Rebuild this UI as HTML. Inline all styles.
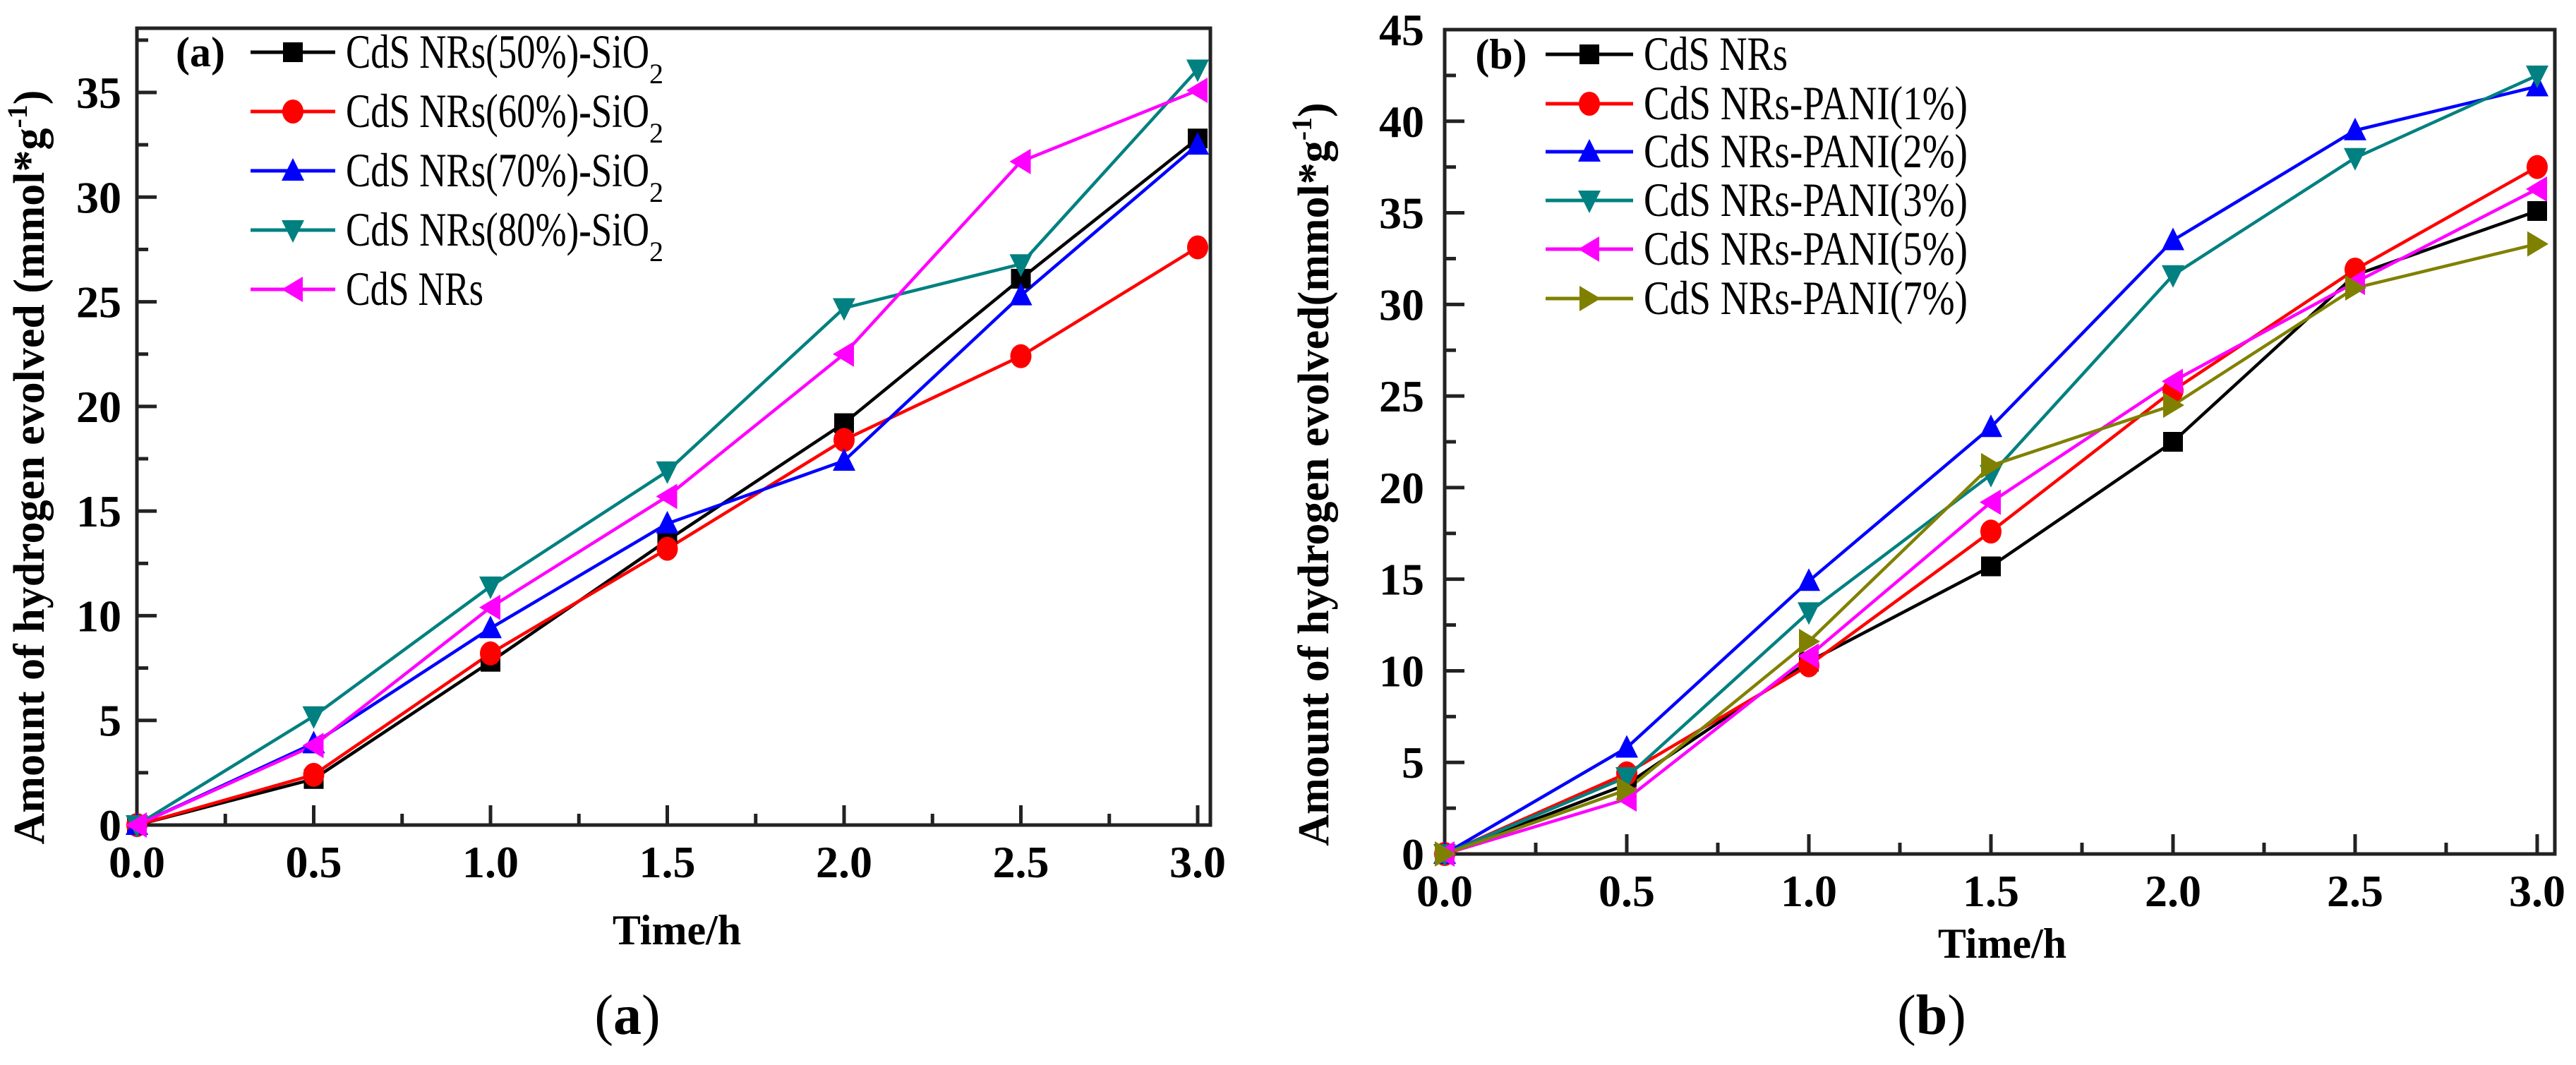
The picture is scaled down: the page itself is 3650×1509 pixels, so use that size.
<!DOCTYPE html>
<html><head><meta charset="utf-8"><style>
html,body{margin:0;padding:0;background:#fff;}
svg{display:block;}
text{font-family:"Liberation Serif",serif;}
</style></head><body>
<svg id="fig" width="3650" height="1509" viewBox="0 0 3650 1509" xmlns="http://www.w3.org/2000/svg" font-family="Liberation Serif, serif"></svg>
<script>
const xVals = [0,0.5,1.0,1.5,2.0,2.5,3.0];
const xTickLabels = ["0.0","0.5","1.0","1.5","2.0","2.5","3.0"];
const aNames = ["CdS NRs(50%)-SiO","CdS NRs(60%)-SiO","CdS NRs(70%)-SiO","CdS NRs(80%)-SiO","CdS NRs"];
const aSub = ["2","2","2","2",""];
const a50 = [0,2.2,7.8,13.6,19.2,26.1,32.8];
const a60 = [0,2.4,8.2,13.2,18.4,22.4,27.6];
const a70 = [0,3.9,9.4,14.4,17.4,25.3,32.5];
const a80 = [0,5.2,11.4,16.9,24.7,26.8,36.1];
const aCdS = [0,3.8,10.4,15.7,22.5,31.7,35.1];
const aYTicks = [0,5,10,15,20,25,30,35];
const bNames = ["CdS NRs","CdS NRs-PANI(1%)","CdS NRs-PANI(2%)","CdS NRs-PANI(3%)","CdS NRs-PANI(5%)","CdS NRs-PANI(7%)"];
const bCdS = [0,3.8,10.5,15.7,22.5,31.6,35.1];
const b1 = [0,4.4,10.3,17.6,25.3,31.9,37.5];
const b2 = [0,5.8,14.9,23.3,33.5,39.5,41.9];
const b3 = [0,4.2,13.2,20.7,31.6,38.0,42.5];
const b5 = [0,3.0,10.8,19.2,25.8,31.2,36.3];
const b7 = [0,3.5,11.6,21.2,24.5,30.9,33.3];
const bYTicks = [0,5,10,15,20,25,30,35,40,45];

const NS="http://www.w3.org/2000/svg";
const svg=document.getElementById('fig');
function mk(tag,attrs,parent){const e=document.createElementNS(NS,tag);for(const k in attrs)e.setAttribute(k,attrs[k]);(parent||svg).appendChild(e);return e;}

function marker(g,type,cx,cy,col){
  const s=14;let e;
  if(type==='sq') e=mk('rect',{x:cx-s,y:cy-s,width:2*s,height:2*s,fill:col},g);
  else if(type==='ci') e=mk('ellipse',{cx:cx,cy:cy,rx:s+1,ry:s+3,fill:col},g);
  else if(type==='up') e=mk('polygon',{points:`${cx},${cy-s-4} ${cx+s+2},${cy+s} ${cx-s-2},${cy+s}`,fill:col},g);
  else if(type==='dn') e=mk('polygon',{points:`${cx},${cy+s+4} ${cx+s+2},${cy-s} ${cx-s-2},${cy-s}`,fill:col},g);
  else if(type==='lt') e=mk('polygon',{points:`${cx-s-2},${cy} ${cx+s},${cy-s-4} ${cx+s},${cy+s+4}`,fill:col},g);
  else e=mk('polygon',{points:`${cx+s+2},${cy} ${cx-s},${cy-s-4} ${cx-s},${cy+s+4}`,fill:col},g);
  
  
}

function panel(cfg){
  const g=mk('g',{});
  
  
  const X=v=>cfg.x0+(cfg.x3-cfg.x0)*v/3;
  const Y=v=>cfg.y0-(cfg.y0-cfg.yTop)*v/cfg.ymax;
  const fr=mk('rect',{x:cfg.x0,y:cfg.top,width:cfg.right-cfg.x0,height:cfg.y0-cfg.top,fill:'none',stroke:'#222','stroke-width':5},g);
  
  
  for(let i=0;i<=12;i++){
    const v=i*0.25, major=i%2===0, x=X(v);
    const t=mk('line',{x1:x,x2:x,y1:cfg.y0,y2:cfg.y0-(major?28:16),stroke:'#222','stroke-width':5},g);
    
    
  }
  xTickLabels.forEach((l,i)=>{
    const t=mk('text',{x:X(xVals[i]),y:cfg.y0+74,'text-anchor':'middle','font-size':64,'font-weight':'bold'},g);
    t.textContent=l;
    
    
  });
  cfg.yTicks.forEach((v,i)=>{
    const y=Y(v);
    const t=mk('line',{x1:cfg.x0,x2:cfg.x0+28,y1:y,y2:y,stroke:'#222','stroke-width':5},g);
    
    
    const ym=Y(v+2.5);
    if(ym>cfg.top+5){
      const m=mk('line',{x1:cfg.x0,x2:cfg.x0+16,y1:ym,y2:ym,stroke:'#222','stroke-width':5},g);
      
      
    }
    const tl=mk('text',{x:cfg.labelRight,y:y+22,'text-anchor':'end','font-size':64,'font-weight':'bold'},g);
    tl.textContent=String(v);
    
    
  });
  const xt=mk('text',{x:cfg.xtX,y:cfg.xtY,'text-anchor':'middle','font-size':60,'font-weight':'bold'},g);
  xt.textContent='Time/h';
  
  
  const yt=mk('text',{x:0,y:0,'text-anchor':'middle','font-size':62,'font-weight':'bold',transform:`translate(${cfg.ytX},${cfg.ytY}) rotate(-90)`},g);
  yt.innerHTML=cfg.ytitle+'g<tspan dy="-24" font-size="40">-1</tspan><tspan dy="24">)</tspan>';
  
  
  const pl=mk('text',{x:cfg.plX,y:cfg.legY[0]+20,'text-anchor':'middle','font-size':60,'font-weight':'bold'},g);
  pl.textContent=cfg.plabel;
  
  
  const cap=mk('text',{x:cfg.capX,y:1465,'text-anchor':'middle','font-size':80},g);
  cap.innerHTML='(<tspan font-weight="bold">'+cfg.capLetter+'</tspan>)';
  
  
  cfg.series.forEach((s,si)=>{
    const pts=s.vals.map((v,i)=>X(xVals[i])+','+Y(v)).join(' ');
    const ln=mk('polyline',{points:pts,fill:'none',stroke:s.col,'stroke-width':4.5},g);
    
    
  });
  cfg.series.forEach((s,si)=>{
    s.vals.forEach((v,i)=>marker(g,s.mk,X(xVals[i]),Y(v),s.col));
    const ly=cfg.legY[si];
    const le=mk('g',{},g);
    
    
    mk('line',{x1:cfg.legX1,x2:cfg.legX2,y1:ly,y2:ly,stroke:s.col,'stroke-width':5},le);
    marker(le,s.mk,(cfg.legX1+cfg.legX2)/2,ly,s.col);
    const tx=mk('text',{x:cfg.legT,y:ly+22,'font-size':68},le);
    const main=mk('tspan',{textLength:s.tl,lengthAdjust:'spacingAndGlyphs'},tx);
    main.textContent=s.name;
    if(s.sub){const ts=mk('tspan',{dy:22,'font-size':40},tx);ts.textContent=s.sub;}
  });
}

panel({id:'panel-a',x0:194,x3:1697,right:1715,top:40,y0:1169,yTop:131,ymax:35,yTicks:aYTicks,labelRight:172,
  xtX:959,xtY:1338,ytX:62,ytY:662,ytitle:'Amount of hydrogen evolved (mmol*',plX:284,plabel:'(a)',capX:889,capLetter:'a',
  legX1:355,legX2:475,legT:490,legY:[74,158,242,326,410],
  series:[{name:aNames[0],sub:aSub[0],vals:a50,col:'#000000',mk:'sq',tl:430},
          {name:aNames[1],sub:aSub[1],vals:a60,col:'#ff0000',mk:'ci',tl:430},
          {name:aNames[2],sub:aSub[2],vals:a70,col:'#0000ff',mk:'up',tl:430},
          {name:aNames[3],sub:aSub[3],vals:a80,col:'#008080',mk:'dn',tl:430},
          {name:aNames[4],sub:aSub[4],vals:aCdS,col:'#ff00ff',mk:'lt',tl:195}]});
panel({id:'panel-b',x0:2047,x3:3595,right:3620,top:42,y0:1210,yTop:42,ymax:45,yTicks:bYTicks,labelRight:2018,
  xtX:2837,xtY:1357,ytX:1882,ytY:672,ytitle:'Amount of hydrogen evolved(mmol*',plX:2127,plabel:'(b)',capX:2737,capLetter:'b',
  legX1:2190,legX2:2314,legT:2329,legY:[77,147,215,284,353,423],
  series:[{name:bNames[0],vals:bCdS,col:'#000000',mk:'sq',tl:204},
          {name:bNames[1],vals:b1,col:'#ff0000',mk:'ci',tl:459},
          {name:bNames[2],vals:b2,col:'#0000ff',mk:'up',tl:459},
          {name:bNames[3],vals:b3,col:'#008080',mk:'dn',tl:459},
          {name:bNames[4],vals:b5,col:'#ff00ff',mk:'lt',tl:459},
          {name:bNames[5],vals:b7,col:'#808000',mk:'rt',tl:459}]});
</script>
</body></html>
